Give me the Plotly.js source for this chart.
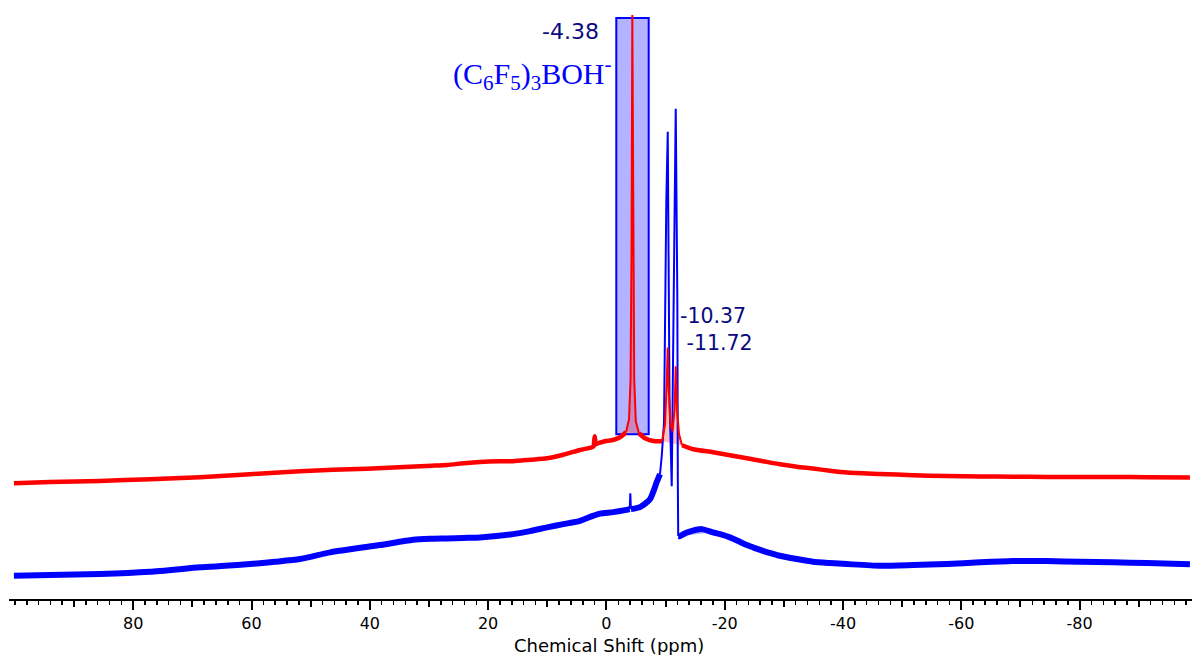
<!DOCTYPE html>
<html>
<head>
<meta charset="utf-8">
<script src="https://cdn.plot.ly/plotly-3.0.1.min.js"></script>
<style>html,body{margin:0;padding:0;background:#fff;}#chart{width:1192px;height:655px;}</style>
</head>
<body>
<div id="chart"></div>
<script>
// Chemical shift (ppm) and intensity (arbitrary units)
var redShift = [100.17, 94.08, 85.63, 77.17, 68.72, 60.26, 51.8, 46.2, 40.5, 35.1, 29.5, 26.95, 23.6, 19.9, 15.79, 12.9, 10.04, 7.3, 4.46, 2.43, 2.18, 1.98, 1.76, 1.42, 0.24, -1.12, -2.30, -3.31, -3.82, -4.08, -4.25, -4.38, -4.53, -4.70, -4.97, -5.51, -6.53, -8.22, -9.40, -9.91, -10.21, -10.37, -10.53, -10.84, -11.18, -11.52, -11.72, -11.94, -12.28, -12.78, -14.64, -18.03, -20.9, -23.74, -26.5, -29.32, -32.2, -34.90, -37.8, -40.65, -46.23, -51.81, -57.5, -63.14, -68.7, -74.47, -80.0, -85.63, -91.4, -98.65];
var redIntensity = [116, 117.2, 118.3, 120, 122, 125, 128, 129.5, 130.5, 132, 133.5, 134.3, 136.3, 137.8, 138, 139.5, 141, 144.5, 149.3, 152, 153, 163, 155, 156, 158, 159.3, 162, 167, 180, 220, 350, 585, 350, 220, 178, 166, 161, 158, 158, 175, 220, 252, 210, 175, 168, 190, 233, 190, 165, 154, 150, 147, 144, 141, 138, 135, 132.5, 130.7, 128.5, 126.7, 125.3, 124, 123.2, 122.7, 122.5, 122.3, 122.3, 122.3, 122, 121.7];

var blueShift = [100.17, 94.08, 85.63, 77.17, 68.72, 64.5, 60.26, 56.0, 51.81, 46.74, 42.5, 38.28, 32.70, 29.8, 26.95, 24.2, 21.37, 18.6, 15.79, 12.9, 10.04, 7.3, 4.46, 2.27, 1.08, -1.12, -3.15, -3.94, -4.04, -4.14, -5.68, -7.37, -8.50, -9.06, -9.35, -9.74, -9.91, -10.13, -10.37, -10.53, -10.67, -11.04, -11.31, -11.55, -11.72, -11.89, -11.99, -12.07, -12.14, -12.45, -13.4, -14.47, -16.16, -18.03, -19.5, -20.90, -22.3, -23.74, -25.1, -26.45, -27.9, -29.32, -32.20, -34.90, -37.8, -40.65, -46.23, -51.81, -57.56, -63.14, -68.72, -74.47, -80.05, -85.63, -91.39, -98.65];
var blueIntensity = [23.3, 24, 25, 27.3, 31.7, 33.2, 35, 37.3, 40, 46.7, 50.5, 54, 59.3, 60.3, 60.7, 61.2, 61.7, 63, 65, 68, 71.7, 75, 78.3, 83.3, 85.5, 87, 89, 90, 106, 90, 92, 100, 117, 125, 143, 177, 300, 400, 468, 300, 200, 113, 300, 400, 491, 400, 300, 120, 63, 63, 66, 68.3, 70, 66.7, 64.5, 61.7, 58, 54, 51, 48.3, 45.7, 43.3, 40, 37.3, 36, 35, 33.3, 34, 35, 36.7, 38, 38, 37.3, 36.7, 36, 34.7];

var tickValues = [80, 60, 40, 20, 0, -20, -40, -60, -80];
var tickLabels = ['80', '60', '40', '20', '0', '-20', '-40', '-60', '-80'];
var midTickValues = [90, 70, 50, 30, 10, -10, -30, -50, -70, -90];

// integration / label regions (ppm)
var boxRange = [-1.67, -7.15];
var boxHeights = [165, 582];
var redFillRanges = [[-3.31, -5.51], [-9.40, -12.78]];
var blueFillRanges = [[-12.45, -18.03]];
var redThin = [[-3.31, -5.51], [-9.40, -12.78]];
var blueThin = [[-3.94, -4.14], [-9.06, -12.14]];

function inRanges(v, ranges) {
  for (var k = 0; k < ranges.length; k++) {
    var a = Math.max(ranges[k][0], ranges[k][1]), b = Math.min(ranges[k][0], ranges[k][1]);
    if (v <= a && v >= b) return true;
  }
  return false;
}
function segments(xs, ys, thin) {
  var segs = [], cur = null;
  for (var i = 0; i < xs.length - 1; i++) {
    var mid = (xs[i] + xs[i + 1]) / 2;
    var t = inRanges(mid, thin);
    if (!cur || cur.thin !== t) {
      cur = {thin: t, x: [xs[i]], y: [ys[i]]};
      segs.push(cur);
    }
    cur.x.push(xs[i + 1]); cur.y.push(ys[i + 1]);
  }
  return segs;
}
function fillPoly(xs, ys, r) {
  var a = Math.max(r[0], r[1]), b = Math.min(r[0], r[1]);
  var px = [], py = [];
  for (var i = 0; i < xs.length; i++) {
    if (xs[i] <= a && xs[i] >= b) { px.push(xs[i]); py.push(ys[i]); }
  }
  return {x: px, y: py};
}

var traces = [];
redFillRanges.forEach(function (r) {
  var p = fillPoly(redShift, redIntensity, r);
  traces.push({x: p.x, y: p.y, mode: 'lines', fill: 'toself', fillcolor: 'rgba(255,0,0,0.25)', line: {width: 0}, hoverinfo: 'skip', showlegend: false});
});
blueFillRanges.forEach(function (r) {
  var p = fillPoly(blueShift, blueIntensity, r);
  traces.push({x: p.x, y: p.y, mode: 'lines', fill: 'toself', fillcolor: 'rgba(0,0,255,0.28)', line: {width: 0}, hoverinfo: 'skip', showlegend: false});
});
segments(blueShift, blueIntensity, blueThin).forEach(function (s) {
  traces.push({x: s.x, y: s.y, mode: 'lines',
    line: s.thin ? {color: '#0000ff', width: 2} : {color: '#0000ff', width: 6, shape: 'spline', smoothing: 0.6},
    showlegend: false});
});
segments(redShift, redIntensity, redThin).forEach(function (s) {
  traces.push({x: s.x, y: s.y, mode: 'lines',
    line: s.thin ? {color: '#ff0000', width: 2} : {color: '#ff0000', width: 4.5, shape: 'spline', smoothing: 0.6},
    showlegend: false});
});
traces.push({x: [], y: [], xaxis: 'x2', mode: 'lines', showlegend: false});

var font = '"DejaVu Sans", Arial, sans-serif';
var layout = {
  width: 1192, height: 655,
  margin: {l: 9, r: 0, t: 0, b: 56},
  paper_bgcolor: '#ffffff', plot_bgcolor: '#ffffff',
  showlegend: false,
  xaxis: {
    range: [101, -99], showgrid: false, zeroline: false,
    showline: true, linecolor: '#000000', linewidth: 2,
    ticks: 'outside', ticklen: 9, tickwidth: 2, tickcolor: '#000000',
    tickvals: tickValues, ticktext: tickLabels,
    tickfont: {family: font, size: 16, color: '#000000'},
    minor: {dtick: 2, tick0: 0, ticks: 'outside', ticklen: 4, tickwidth: 1.5, tickcolor: '#000000', showgrid: false}
  },
  xaxis2: {
    overlaying: 'x', anchor: 'y', side: 'bottom', range: [101, -99],
    showgrid: false, zeroline: false, showline: false,
    ticks: 'outside', ticklen: 7, tickwidth: 2, tickcolor: '#000000',
    tickvals: midTickValues, showticklabels: false
  },
  yaxis: {range: [0, 600], visible: false, showgrid: false, zeroline: false},
  shapes: [{
    type: 'rect', xref: 'x', yref: 'y', layer: 'below',
    x0: boxRange[0], x1: boxRange[1], y0: boxHeights[0], y1: boxHeights[1],
    fillcolor: '#b3b3ff', line: {color: '#0000ff', width: 2}
  }],
  annotations: [
    {x: 0.507, y: -0.077, xref: 'paper', yref: 'paper', xanchor: 'center', yanchor: 'middle',
     text: 'Chemical Shift (ppm)', showarrow: false,
     font: {family: font, size: 18, color: '#000000'}},
    {x: 0.9, y: 568, xref: 'x', yref: 'y', xanchor: 'right', yanchor: 'middle', text: '-4.38', showarrow: false,
     font: {family: font, size: 22, color: '#0a0a80'}},
    {x: -1.2, y: 526, xref: 'x', yref: 'y', xanchor: 'right', yanchor: 'middle',
     text: '(C<sub>6</sub>F<sub>5</sub>)<sub>3</sub>BOH<sup>-</sup>', showarrow: false,
     font: {family: '"Liberation Serif", "Times New Roman", serif', size: 30, color: '#0000ff'}},
    {x: -12.1, y: 270, xref: 'x', yref: 'y', xanchor: 'left', yanchor: 'middle', align: 'left',
     text: '-10.37<br>\u00a0-11.72', showarrow: false,
     font: {family: font, size: 20.5, color: '#0a0a80'}}
  ]
};
Plotly.newPlot('chart', traces, layout, {displayModeBar: false, staticPlot: true});
</script>
</body>
</html>
